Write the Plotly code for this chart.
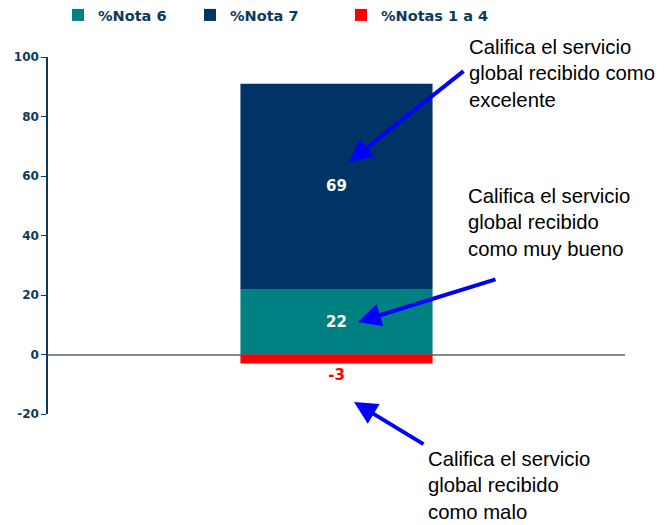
import plotly.graph_objects as go

categories = ["Servicio global"]
nota6 = [22]
nota7 = [69]
notas14 = [-3]
series_names = ["%Nota 6", "%Nota 7", "%Notas 1 a 4"]
series_colors = ["#008080", "#003366", "#FF0000"]
y_ticks = [-20, 0, 20, 40, 60, 80, 100]

# page is rendered with an 8px body margin
OFF = 8
W, H = 667 - OFF, 525 - OFF
L, R, T, B = 48 - OFF, 42, 57 - OFF, 111
PW, PH = W - L - R, H - T - B

def px(xp):
    return (xp - OFF - L) / PW

def py(yp):
    return (H - B - (yp - OFF)) / PH

navy_txt = "#0d3a5c"
lbl_font = dict(size=15, family="DejaVu Sans", weight="bold")

fig = go.Figure()
fig.add_trace(go.Bar(x=categories, y=nota6, name=series_names[0], marker_color=series_colors[0],
                     marker_line_width=0, legend="legend",
                     text=[str(v) for v in nota6], textposition="inside", insidetextanchor="middle",
                     textfont=dict(color="white", **lbl_font)))
fig.add_trace(go.Bar(x=categories, y=nota7, name=series_names[1], marker_color=series_colors[1],
                     marker_line_width=0, legend="legend",
                     text=[str(v) for v in nota7], textposition="inside", insidetextanchor="middle",
                     textfont=dict(color="white", **lbl_font)))
fig.add_trace(go.Bar(x=categories, y=notas14, name=series_names[2], marker_color=series_colors[2],
                     marker_line_width=0, legend="legend2",
                     text=[str(v) for v in notas14], textposition="outside",
                     textfont=dict(color="#FF0000", **lbl_font),
                     cliponaxis=False))

notes = [
    ("Califica el servicio<br>global recibido como<br>excelente", 467, 73.5),
    ("Califica el servicio<br>global recibido<br>como muy bueno", 466, 222),
    ("Califica el servicio<br>global recibido<br>como malo", 426, 485),
]
arrows = [((349, 162), (465, 70)), ((358, 322), (497, 279)), ((354, 402), (425, 445))]

annotations = []
for txt, xx, yy in notes:
    annotations.append(dict(text=txt, x=px(xx), y=py(yy), xref="paper", yref="paper",
                            xanchor="left", yanchor="middle", align="left", showarrow=False,
                            font=dict(family="Liberation Sans, Arial", size=20.3, color="black")))
for (tx, ty), (sx, sy) in arrows:
    annotations.append(dict(text="", x=px(tx), y=py(ty), xref="paper", yref="paper",
                            ax=sx - tx, ay=sy - ty, axref="pixel", ayref="pixel",
                            showarrow=True, arrowhead=2, arrowsize=1.15, arrowwidth=4,
                            arrowcolor="#0000FF", standoff=0))

leg_font = dict(family="DejaVu Sans", size=14.5, color=navy_txt, weight="bold")

fig.update_layout(
    width=W, height=H,
    margin=dict(l=L, r=R, t=T, b=B, autoexpand=False),
    barmode="relative", bargap=0.667,
    plot_bgcolor="white", paper_bgcolor="white",
    showlegend=True,
    legend=dict(orientation="h", x=px(58), y=py(15), xanchor="left", yanchor="middle",
                entrywidth=87, entrywidthmode="pixels", traceorder="normal", font=leg_font),
    legend2=dict(orientation="h", x=px(341), y=py(15), xanchor="left", yanchor="middle",
                 font=leg_font),
    annotations=annotations,
    xaxis=dict(showticklabels=False, showline=False, ticks="", showgrid=False, zeroline=False,
               automargin=False),
    yaxis=dict(range=[-20, 100], tickvals=y_ticks, ticktext=[str(v) for v in y_ticks],
               showgrid=False, automargin=False,
               showline=True, linecolor=navy_txt, linewidth=1.5,
               ticks="outside", ticklen=5, tickcolor=navy_txt,
               zeroline=True, zerolinecolor="#7f8c95", zerolinewidth=2,
               layer="above traces",
               tickfont=dict(family="DejaVu Sans", size=12, color=navy_txt, weight="bold")),
)

fig.write_html("out.html")
